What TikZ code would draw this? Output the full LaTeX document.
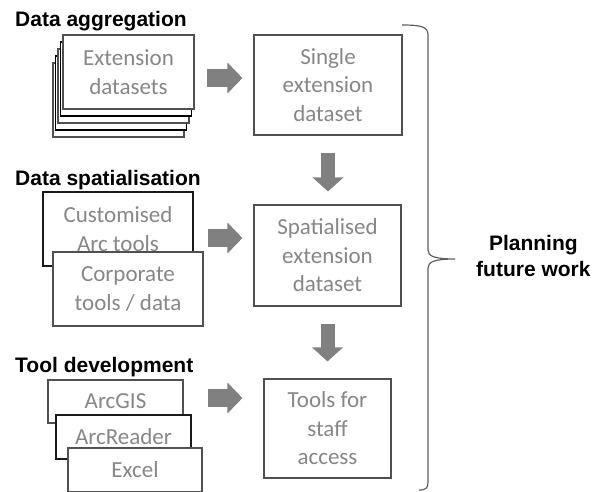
\documentclass[tikz,border=0pt]{standalone}
\usepackage{fontspec}
\setmainfont{Carlito}
\newfontfamily\headfont{Liberation Sans}
\usetikzlibrary{arrows.meta,calc}

\definecolor{textgray}{RGB}{135,135,135}
\definecolor{boxline}{RGB}{80,80,80}
\definecolor{arrowgray}{RGB}{128,128,128}
\definecolor{braceline}{RGB}{95,95,95}

\begin{document}
\begin{tikzpicture}[x=1pt, y=-1pt,
    box/.style={draw=boxline, line width=1.1pt, fill=white, text=textgray, align=center,
      inner sep=0pt, font=\fontsize{23}{28.5}\selectfont},
    darkbox/.style={box, draw=black!90},
    head/.style={anchor=base west, inner sep=0pt, font=\headfont\bfseries\fontsize{21}{26}\selectfont},
    blockarrow/.style={draw=arrowgray, line width=18pt, -{Triangle[length=15pt,width=30pt]}},
    downarrow/.style={draw=arrowgray, line width=14pt, -{Triangle[length=14pt,width=30pt]}}]
    \useasboundingbox (0,0) rectangle (594,491);

    % data aggregation
    \node[head] (agghead) at (15,26) {Data aggregation};
    \coordinate (extc) at (128.5,72);
    \foreach \i/\c in {4/boxline,3/black,2/boxline,1/black}
      \node[box, draw=\c, minimum width=131pt, minimum height=74pt] (ext\i) at ($(extc)+(-2.5*\i,7*\i)$) {};
    \node[box, minimum width=131pt, minimum height=74pt] (ext) at (extc) {Extension\\datasets};
    \node[box, minimum width=148pt, minimum height=100pt] (single) at (328,85) {Single\\extension\\dataset};
    \coordinate (r1) at (207,78);
    \draw[blockarrow, shorten >=11pt] (r1) -- (r1 -| single.west);

    % data spatialisation
    \node[head] (spahead) at (15,185) {Data spatialisation};
    \node[darkbox, minimum width=150pt, minimum height=74pt] (custom) at (118,229) {Customised\\Arc tools};
    \node[box, minimum width=150pt, minimum height=74pt] (corp) at (128,289) {Corporate\\tools / data};
    \node[box, minimum width=147pt, minimum height=101pt] (spatial) at (327.5,255.5) {Spatialised\\extension\\dataset};
    \coordinate (r2) at (208,238);
    \draw[blockarrow, shorten >=11pt] (r2) -- (r2 -| spatial.west);
    \draw[downarrow, shorten <=17pt, shorten >=13pt] (single.south) -- (single.south |- spatial.north);

    % tool development
    \node[head] (toolhead) at (15,372) {Tool development};
    \node[box, minimum width=135pt, minimum height=43pt] (arcgis) at (115.5,401.5) {ArcGIS};
    \node[darkbox, minimum width=135pt, minimum height=44pt] (arcreader) at (123.5,437) {ArcReader};
    \node[box, minimum width=134pt, minimum height=44pt] (excel) at (135,470) {Excel};
    \node[box, minimum width=127pt, minimum height=99pt] (tools) at (327.5,428.5) {Tools for\\staff\\access};
    \coordinate (r3) at (208,398);
    \draw[blockarrow, shorten >=21pt] (r3) -- (r3 -| tools.west);
    \draw[downarrow, shorten <=17pt, shorten >=17pt] (spatial.south) -- (spatial.south |- tools.north);

    % brace
    \coordinate (tip) at (455,259);
    \draw[braceline, line width=1.2pt] (402,25) .. controls (422,25) and (428,27) .. (428,35)
      -- (428,250) .. controls (428,256) and (434,259) .. (tip)
      .. controls (434,259) and (428,262) .. (428,268)
      -- (428,482) .. controls (428,488) and (426,490) .. (419,490);
    \node[anchor=west, align=center, inner sep=0pt, xshift=21pt, yshift=3pt,
      font=\headfont\bfseries\fontsize{21}{26}\selectfont] (plan) at (tip) {Planning\\future work};
\end{tikzpicture}
\end{document}
